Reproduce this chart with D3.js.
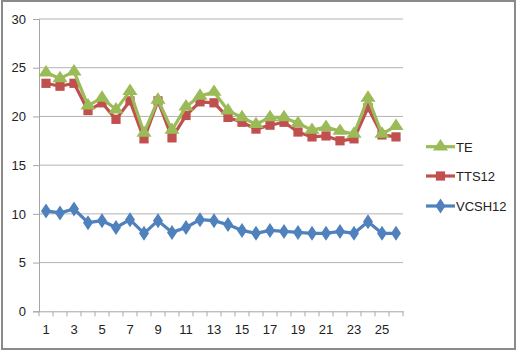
<!DOCTYPE html>
<html><head><meta charset="utf-8">
<script src="https://cdn.jsdelivr.net/npm/d3@7"></script>
<style>body{margin:0;background:#fff}svg{display:block}text{font-family:"Liberation Sans",Arial,sans-serif}</style>
</head><body>
<svg id="c" width="517" height="352"></svg>
<script>
const categories = d3.range(1, 27).map(String);
const TE =     [24.5,23.9,24.6,21.1,21.9,20.7,22.6,18.3,21.7,18.6,21.0,22.1,22.5,20.6,19.9,19.2,19.9,19.9,19.3,18.6,18.9,18.5,18.2,21.9,18.2,19.0];
const TTS12 =  [23.4,23.1,23.4,20.6,21.4,19.7,21.6,17.7,21.6,17.8,20.1,21.5,21.4,19.9,19.4,18.7,19.1,19.4,18.4,17.9,18.0,17.5,17.7,20.9,18.1,17.9];
const VCSH12 = [10.3,10.1,10.5,9.1,9.3,8.6,9.4,8.0,9.3,8.1,8.6,9.4,9.3,8.9,8.3,8.0,8.3,8.2,8.1,8.0,8.0,8.2,8.0,9.2,8.0,8.0];
const yTicks = [0,5,10,15,20,25,30];
const seriesNames = ["TE","TTS12","VCSH12"];
const colors = {TE:"#9BBB59", TTS12:"#C0504D", VCSH12:"#4F81BD"};
const data = {TE, TTS12, VCSH12};

const svg = d3.select("#c");
svg.append("rect").attr("x",2).attr("y",1).attr("width",513).attr("height",348)
  .attr("fill","none").attr("stroke","#8a8a8a").attr("stroke-width",2);

const L=39, R=403, T=19, B=311.3;
const x = d3.scaleBand().domain(categories).range([L,R]);
const y = d3.scaleLinear().domain([0,30]).range([B,T]);

svg.append("g").selectAll("line").data(yTicks.filter(d=>d>0)).join("line")
  .attr("x1",L).attr("x2",R).attr("y1",d=>y(d)).attr("y2",d=>y(d))
  .attr("stroke","#b3b3b3").attr("stroke-width",1);

const yAxis = d3.axisLeft(y).tickValues(yTicks).tickSize(6).tickPadding(7);
const gy = svg.append("g").attr("transform",`translate(${L},0)`).call(yAxis);
gy.select(".domain").attr("stroke","#a6a6a6");
gy.selectAll(".tick line").attr("stroke","#a6a6a6");
gy.selectAll("text").attr("font-size",13).attr("fill","#222");

const xAxis = d3.axisBottom(x).tickSize(0).tickPadding(13)
  .tickFormat(d=> (+d)%2===1 ? d : "");
const gx = svg.append("g").attr("transform",`translate(0,${B})`).call(xAxis);
gx.select(".domain").attr("stroke","#a6a6a6");
gx.selectAll("text").attr("font-size",13).attr("fill","#222");
svg.append("g").selectAll("line").data(d3.range(categories.length+1)).join("line")
  .attr("x1",i=>L+i*x.step()).attr("x2",i=>L+i*x.step())
  .attr("y1",B).attr("y2",B+5).attr("stroke","#a6a6a6");

const cx = (i)=> x(categories[i]) + x.bandwidth()/2;
const line = d3.line().x((d,i)=>cx(i)).y(d=>y(d));

const sym = {
  TE: d3.symbol().type(d3.symbolTriangle).size(75),
  TTS12: d3.symbol().type(d3.symbolSquare).size(85),
  VCSH12: d3.symbol().type(d3.symbolDiamond).size(72)
};
const symScale = {TE:[1.15,1], TTS12:[1,1], VCSH12:[1.1,0.95]};

["VCSH12","TTS12","TE"].forEach(name=>{
  const g = svg.append("g");
  g.append("path").datum(data[name]).attr("d",line)
    .attr("fill","none").attr("stroke",colors[name]).attr("stroke-width",3.2).attr("stroke-linejoin","round");
  g.selectAll("path.m").data(data[name]).join("path").attr("class","m")
    .attr("d",sym[name])
    .attr("transform",(d,i)=>`translate(${cx(i)},${y(d)}) scale(${symScale[name][0]},${symScale[name][1]})`)
    .attr("fill",colors[name]);
});

const legY = [146.7,176,206];
seriesNames.forEach((name,k)=>{
  const g = svg.append("g").attr("transform",`translate(0,${legY[k]})`);
  g.append("line").attr("x1",426).attr("x2",455).attr("y1",0).attr("y2",0)
    .attr("stroke",colors[name]).attr("stroke-width",3.2);
  g.append("path").attr("d",sym[name]).attr("transform",`translate(440.5,0) scale(${symScale[name][0]},${symScale[name][1]})`).attr("fill",colors[name]);
  g.append("text").attr("x",456).attr("y",5).attr("font-size",13).attr("fill","#222").text(name);
});
</script>
</body></html>
